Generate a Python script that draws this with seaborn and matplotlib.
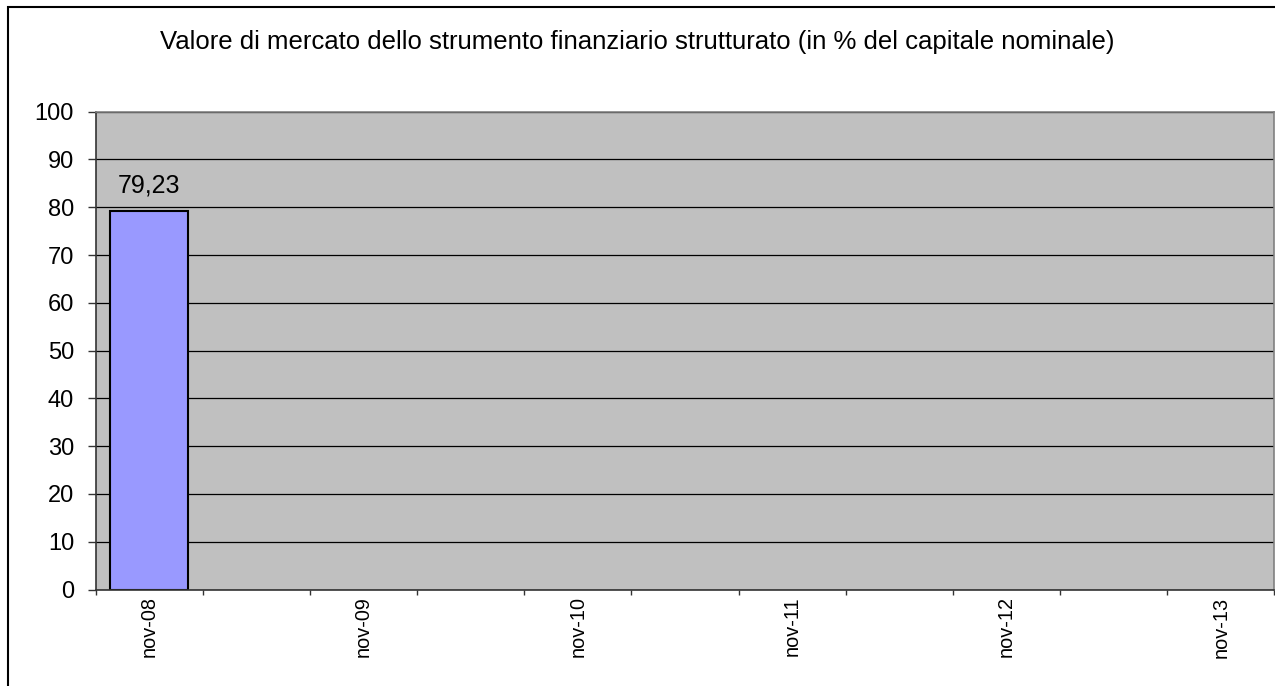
import matplotlib
matplotlib.use("Agg")
import matplotlib.pyplot as plt
import seaborn as sns
import pandas as pd
import numpy as np
from matplotlib.patches import Rectangle

# dati (semestrali, solo il primo valore disponibile)
periodi = ['nov-08', 'mag-09', 'nov-09', 'mag-10', 'nov-10', 'mag-11',
           'nov-11', 'mag-12', 'nov-12', 'mag-13', 'nov-13']
valori = [79.23, np.nan, np.nan, np.nan, np.nan, np.nan,
          np.nan, np.nan, np.nan, np.nan, np.nan]
etichette = ['nov-08', '', 'nov-09', '', 'nov-10', '', 'nov-11', '', 'nov-12', '', 'nov-13']
titolo = 'Valore di mercato dello strumento finanziario strutturato (in % del capitale nominale)'

df = pd.DataFrame({'periodo': periodi, 'valore': valori})

sns.set_style('white')
plt.rcParams['font.family'] = ['Liberation Sans', 'DejaVu Sans']
plt.rcParams['text.color'] = 'black'
plt.rcParams['xtick.color'] = 'black'
plt.rcParams['ytick.color'] = 'black'

W, H = 1275, 686
fig = plt.figure(figsize=(W / 100, H / 100), dpi=100)
ax = fig.add_axes([95.7 / W, 1 - 589.5 / H, (1274.3 - 95.7) / W, (589.5 - 111.7) / H])

sns.barplot(data=df, x='periodo', y='valore', order=periodi, ax=ax,
            color='#9999FF', edgecolor='black', linewidth=1.5, width=0.725,
            saturation=1)

ax.set_facecolor('#C0C0C0')
ax.set_ylim(0, 100)
ax.set_xlim(-0.5, len(periodi) - 0.5)
ax.set_yticks(range(0, 101, 10))
ax.yaxis.grid(True, color='black', linewidth=0.9)
ax.set_axisbelow(True)
ax.set_xlabel('')
ax.set_ylabel('')

# tick di categoria sui confini, etichette al centro
ax.set_xticks(np.arange(len(periodi)))
ax.set_xticklabels(etichette, rotation=90, fontsize=14.3)
ax.set_xticks(np.arange(len(periodi) + 1) - 0.5, minor=True)
ax.tick_params(axis='x', which='major', length=0, pad=5)
ax.tick_params(axis='x', which='minor', length=3.3, width=1, color='#333333', bottom=True)
ax.tick_params(axis='y', length=6, width=1, color='#333333', labelsize=17, pad=9.6, left=True)

for s in ax.spines.values():
    s.set_color('#808080')
    s.set_linewidth(1.2)
ax.spines['bottom'].set_color('#333333')
ax.spines['left'].set_color('#333333')

for i, v in enumerate(valori):
    if not np.isnan(v):
        ax.annotate(f'{v:.2f}'.replace('.', ','), (i, v), xytext=(0, 18),
                    textcoords='offset points', ha='center', va='center',
                    fontsize=18)

fig.text(637 / W, 1 - 42 / H, titolo, ha='center', va='center', fontsize=18.5)

# bordo del grafico
fig.patches.append(Rectangle((8 / W, -0.1), 1.2, 1 - 7 / H + 0.1, transform=fig.transFigure,
                             fill=False, edgecolor='black', linewidth=1.5))

fig.savefig('out.png', dpi=100)
